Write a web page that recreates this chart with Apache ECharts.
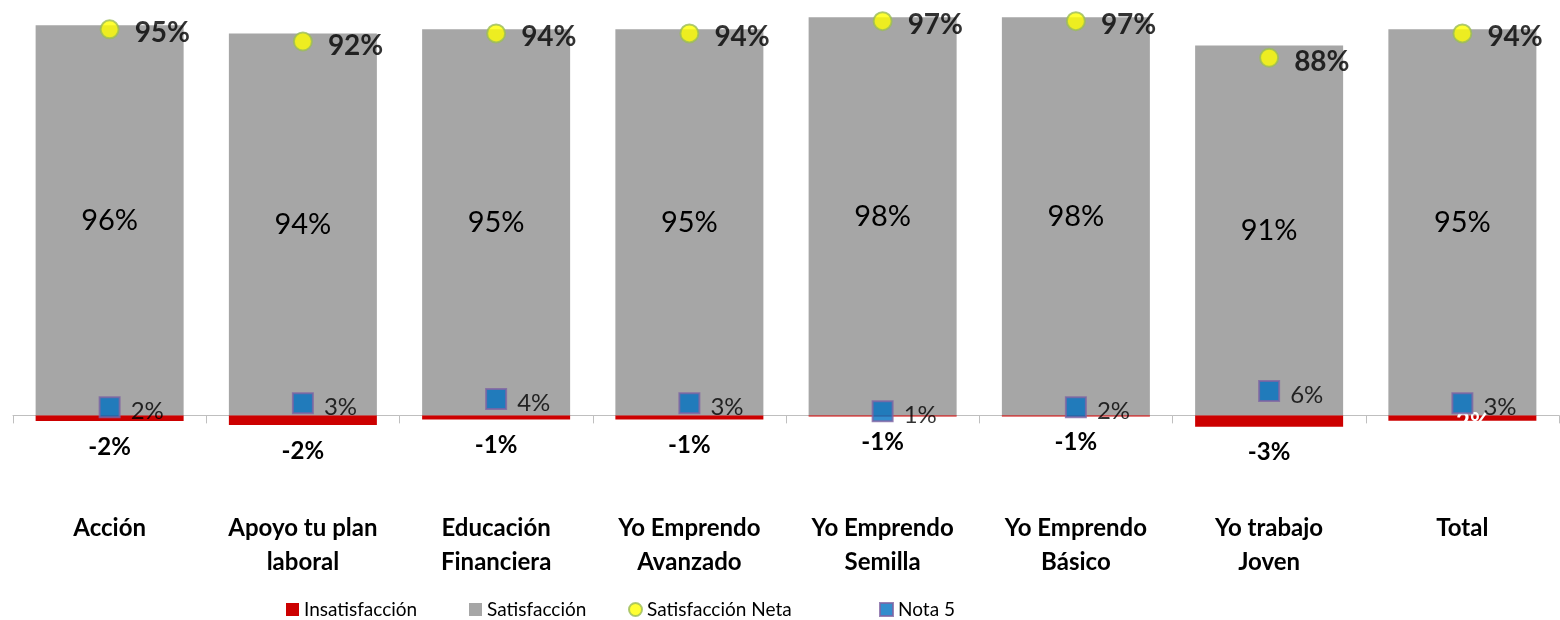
<!DOCTYPE html>
<html>
<head>
<meta charset="utf-8">
<title>Satisfacción por programa</title>
<script src="https://cdn.jsdelivr.net/npm/echarts@6/dist/echarts.min.js"></script>
<style>
  html, body { margin: 0; padding: 0; background: #fff; }
  #chart { width: 1560px; height: 620px; }
</style>
</head>
<body>
<div id="chart"></div>
<script>
  // categorías (programas)
  var categories = [
    "Acción",
    "Apoyo tu plan\nlaboral",
    "Educación\nFinanciera",
    "Yo Emprendo\nAvanzado",
    "Yo Emprendo\nSemilla",
    "Yo Emprendo\nBásico",
    "Yo trabajo\nJoven",
    "Total"
  ];
  var insatisfaccion = [-1.4, -2.4, -1.0, -1.0, -0.3, -0.3, -2.8, -1.3];
  var insatisfaccionLabels = ["-2%", "-2%", "-1%", "-1%", "-1%", "-1%", "-3%", "-2%"];
  var satisfaccion = [96, 94, 95, 95, 98, 98, 91, 95];
  var satisfaccionNeta = [95, 92, 94, 94, 97, 97, 88, 94];
  var nota5 = [2, 3, 4, 3, 1, 2, 6, 3];

  var FONT = "Lato, 'Open Sans', sans-serif";

  var chart = echarts.init(document.getElementById("chart"));

  var insatData = insatisfaccion.map(function (v, i) {
    if (i === insatisfaccion.length - 1) {
      // en el original la etiqueta del Total queda en blanco, encima de la barra
      return {
        value: v,
        label: { position: "inside", color: "#fff", offset: [6, 4] }
      };
    }
    return v;
  });

  // leyenda: cada entrada en su sitio, como en el original
  var legendItems = [
    { name: "Insatisfacción", icon: "rect", left: 281 },
    { name: "Satisfacción", icon: "rect", left: 464 },
    { name: "Satisfacción Neta", icon: "circle", left: 623 },
    { name: "Nota 5", icon: "rect", left: 874 }
  ];
  var legends = legendItems.map(function (it) {
    return {
      top: 595,
      left: it.left,
      itemWidth: 13,
      itemHeight: 13,
      itemGap: 0,
      textStyle: { fontSize: 19, color: "#000", fontFamily: FONT },
      data: [{ name: it.name, icon: it.icon }]
    };
  });

  chart.setOption({
    animation: false,
    textStyle: { fontFamily: FONT },
    grid: { left: 13, right: 1, top: 9, bottom: 164 },
    legend: legends,
    xAxis: {
      type: "category",
      data: categories,
      axisLine: { onZero: true, lineStyle: { color: "#bfbfbf", width: 1 } },
      axisTick: { show: true, length: 8, lineStyle: { color: "#bfbfbf" } },
      axisLabel: {
        interval: 0,
        margin: 55,
        verticalAlign: "top",
        fontSize: 24,
        fontWeight: "bold",
        color: "#000",
        lineHeight: 34,
        fontFamily: FONT
      }
    },
    yAxis: {
      type: "value",
      min: -10,
      max: 100,
      show: false,
      splitLine: { show: false }
    },
    series: [
      {
        name: "Insatisfacción",
        type: "bar",
        stack: "s",
        barWidth: 148,
        itemStyle: { color: "#cc0000" },
        label: {
          show: true,
          position: "bottom",
          distance: 14,
          fontSize: 24,
          fontWeight: "bold",
          color: "#000",
          formatter: function (p) { return insatisfaccionLabels[p.dataIndex]; }
        },
        data: insatData
      },
      {
        name: "Satisfacción",
        type: "bar",
        stack: "s",
        barWidth: 148,
        itemStyle: { color: "#a6a6a6" },
        label: {
          show: true,
          position: "inside",
          fontSize: 29,
          color: "#000",
          formatter: "{c}%"
        },
        data: satisfaccion
      },
      {
        name: "Satisfacción Neta",
        type: "scatter",
        symbol: "circle",
        symbolSize: 18,
        z: 5,
        itemStyle: { color: "#ffff00", borderColor: "#9bbb59", borderWidth: 2 },
        label: {
          show: true,
          position: "right",
          distance: 15,
          offset: [0, 4],
          fontSize: 28,
          fontWeight: "bold",
          color: "#000",
          formatter: "{c}%"
        },
        data: satisfaccionNeta
      },
      {
        name: "Nota 5",
        type: "scatter",
        symbol: "rect",
        symbolSize: 20,
        z: 5,
        itemStyle: { color: "#0070c0", borderColor: "#8064a2", borderWidth: 2 },
        label: {
          show: true,
          position: "right",
          distance: 10,
          offset: [0, 4],
          fontSize: 24,
          color: "#000",
          formatter: "{c}%"
        },
        data: nota5
      }
    ]
  });
</script>
</body>
</html>
